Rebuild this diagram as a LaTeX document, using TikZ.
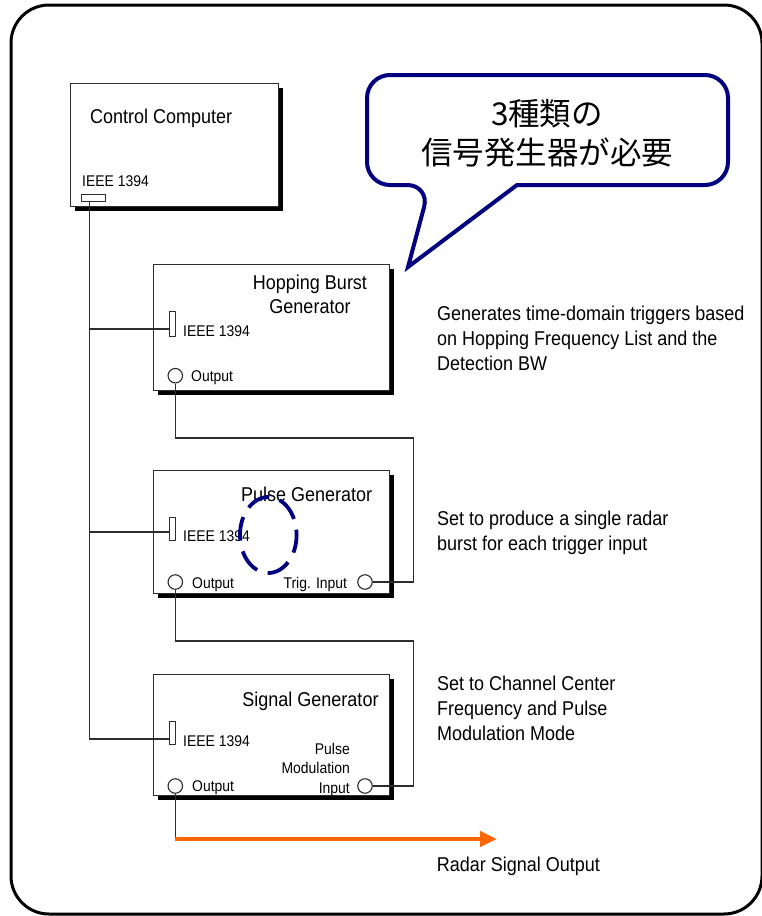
\documentclass[tikz,border=0pt]{standalone}
\usepackage{fontspec}
\setmainfont[FakeStretch=0.9]{Liberation Sans}
\newfontfamily\cjk{Noto Sans CJK JP}
\usetikzlibrary{shadows,arrows.meta}
\definecolor{navy}{RGB}{0,0,128}
\definecolor{radarorange}{RGB}{255,102,0}
\definecolor{wiregray}{RGB}{45,45,45}
\begin{document}
\begin{tikzpicture}[x=1pt,y=-1pt,
  box/.style={draw=wiregray, line width=1.2pt, fill=white, anchor=north west, inner sep=0pt,
    general shadow={fill=black, shadow xshift=4.5pt, shadow yshift=-4.5pt}},
  vport/.style={draw=wiregray, line width=1pt, fill=white, inner sep=0pt, minimum width=6.5pt, minimum height=23pt},
  hport/.style={draw=wiregray, line width=1pt, fill=white, inner sep=0pt, minimum width=24pt, minimum height=7pt},
  jack/.style={circle, draw=wiregray, line width=1.1pt, fill=white, inner sep=0pt, minimum size=14.5pt},
  wire/.style={draw=wiregray, line width=1.2pt},
  title/.style={font=\fontsize{20}{24}\selectfont, inner sep=0pt},
  small/.style={font=\fontsize{15.5}{19.3}\selectfont, inner sep=0pt},
  desc/.style={font=\fontsize{20}{25}\selectfont, inner sep=0pt, anchor=north west, align=left},
  callout/.style={draw=navy, line width=4pt, fill=white, line join=miter},
]
\useasboundingbox (0,0) rectangle (761,916);
% outer frame
\draw[line width=3pt, rounded corners=38pt] (11,5) rectangle (762,914);

% boxes
\node[box, minimum width=208pt, minimum height=123pt] (cc) at (70,83) {};
\node[box, minimum width=236.3pt, minimum height=126pt] (hb) at (152.7,264) {};
\node[box, minimum width=236.3pt, minimum height=123pt] (pg) at (152.7,470) {};
\node[box, minimum width=236.3pt, minimum height=121pt] (sg) at (152.7,674) {};

% control computer
\node[title, anchor=base west] (cctitle) at (90,123) {Control Computer};
\node[small, anchor=base west] (ccieee) at (82,186) {IEEE 1394};
\node[hport] (ccport) at (93.8,197.5) {};

% hopping burst generator
\node[title, anchor=north, align=center] (hbtitle) at (310,275) {Hopping Burst\\Generator};
\node[vport, minimum height=25pt] (hbport) at (172.3,323.5) {};
\node[small, anchor=base west] (hbieee) at (183,336) {IEEE 1394};
\node[jack] (hbout) at (175.3,375.7) {};
\node[small, anchor=base west] (hboutl) at (191,381) {Output};

% pulse generator
\node[title, anchor=base] (pgtitle) at (306.7,501) {Pulse Generator};
\node[vport] (pgport) at (172.3,529) {};
\node[small, anchor=base west] (pgieee) at (183,541.5) {IEEE 1394};
\node[jack] (pgout) at (175.3,582) {};
\node[small, anchor=base west] (pgoutl) at (192,588.5) {Output};
\node[small, anchor=base east] (trigl) at (347.3,588.5) {Trig. Input};
\node[jack] (trig) at (365,582) {};

% signal generator
\node[title, anchor=base] (sgtitle) at (310.5,706) {Signal Generator};
\node[vport] (sgport) at (172.3,732.5) {};
\node[small, anchor=base west] (sgieee) at (183,746) {IEEE 1394};
\node[small, anchor=north east, align=right] (pml) at (350,743) {Pulse\\Modulation\\Input};
\node[jack] (pm) at (365,786) {};
\node[jack] (sgout) at (175.3,786) {};
\node[small, anchor=base west] (sgoutl) at (192,791.7) {Output};

% bus
\coordinate (bus1) at (89.3,329);
\coordinate (bus2) at (89.3,532);
\coordinate (bus3) at (89.3,739);
\draw[wire] (bus3 |- ccport.south) -- (bus3);
\draw[wire] (bus1) -- (bus1 -| hbport.west);
\draw[wire] (bus2) -- (bus2 -| pgport.west);
\draw[wire] (bus3) -- (bus3 -| sgport.west);

% trigger wiring
\coordinate (r1) at (413.3,438);
\coordinate (r2) at (413.3,641);
\draw[wire] (hbout.south) -- (hbout.south |- r1) -- (r1) -- (r1 |- trig.east) -- (trig.east);
\draw[wire] (pgout.south) -- (pgout.south |- r2) -- (r2) -- (r2 |- pm.east) -- (pm.east);

% radar output
\coordinate (ro) at (176,839);
\coordinate (roend) at (497,839);
\draw[wire] (sgout.south) -- (sgout.south |- ro);
\draw[radarorange, line width=4.5pt, -{Triangle[length=17pt, width=15pt]}] (sgout.south |- ro) -- (roend);
\node[font=\fontsize{20}{24}\selectfont, inner sep=0pt, anchor=base west] (radarl) at (436.7,871.7) {Radar Signal Output};

% descriptions
\node[desc] (d1) at (437,306) {Generates time-domain triggers based\\on Hopping Frequency List and the\\Detection BW};
\node[desc] (d2) at (437,511) {Set to produce a single radar\\burst for each trigger input};
\node[desc] (d3) at (437,676) {Set to Channel Center\\Frequency and Pulse\\Modulation Mode};

% dashed highlight
\draw[navy, line width=3.8pt, dash pattern=on 24pt off 11pt, dash phase=6pt] (268.3,535) ellipse [x radius=28.3, y radius=38];

% callout
\draw[callout] (408,267) -- (517,185) [rounded corners=23pt] -- (728,185) -- (728,75) -- (367,75) -- (367,185) -- (430,185) [sharp corners] -- cycle;
\node[font=\cjk\fontsize{31.5}{39}\selectfont, inner sep=0pt, align=center] (callt) at (547,133) {3種類の\\信号発生器が必要};
\end{tikzpicture}
\end{document}
